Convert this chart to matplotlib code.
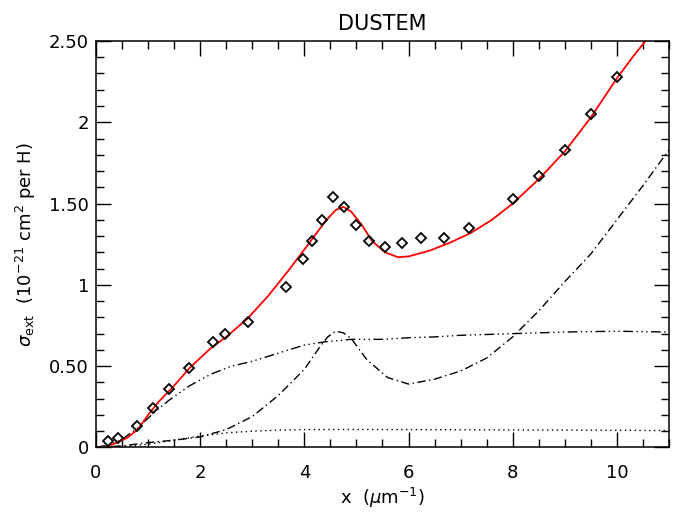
import matplotlib.pyplot as plt
from matplotlib.ticker import MultipleLocator, FixedLocator

plt.rcParams['font.family'] = ['DejaVu Sans']
plt.rcParams['mathtext.fontset'] = 'dejavusans'

# Observed extinction (diamonds).
OBS_X = [0.24, 0.42, 0.78, 1.10, 1.41, 1.79, 2.24, 2.48, 2.92, 3.65, 3.97, 4.15, 4.33,
         4.55, 4.76, 4.99, 5.24, 5.55, 5.87, 6.24, 6.68, 7.16, 8.0, 8.5, 9.0, 9.5, 10.0]
OBS_Y = [0.04, 0.06, 0.135, 0.24, 0.36, 0.49, 0.65, 0.70, 0.77, 0.985, 1.16, 1.27, 1.40,
         1.54, 1.48, 1.37, 1.27, 1.23, 1.26, 1.29, 1.29, 1.35, 1.53, 1.67, 1.83, 2.05, 2.28]

# Total model (red).
TOTAL_X = [0.0, 0.2, 0.4, 0.6, 0.8, 1.0, 1.2, 1.5, 1.8, 2.2, 2.5, 2.9, 3.3, 3.7, 4.1, 4.4,
           4.6, 4.75, 4.9, 5.1, 5.3, 5.55, 5.8, 6.0, 6.4, 6.8, 7.2, 7.6, 8.0, 8.5, 9.0, 9.5,
           10.0, 10.3, 10.6, 11.0]
TOTAL_Y = [0.0, 0.005, 0.03, 0.06, 0.11, 0.20, 0.28, 0.38, 0.49, 0.61, 0.68, 0.79, 0.93,
           1.09, 1.26, 1.39, 1.46, 1.48, 1.45, 1.37, 1.27, 1.20, 1.17, 1.175, 1.21, 1.26,
           1.32, 1.40, 1.50, 1.65, 1.82, 2.03, 2.27, 2.40, 2.52, 2.72]

# Component with the 2175 A bump (dash-dot).
BUMP_X = [0.0, 0.5, 1.0, 1.5, 2.0, 2.5, 3.0, 3.5, 4.0, 4.3, 4.45, 4.6, 4.75, 4.9, 5.2,
          5.6, 6.0, 6.5, 7.0, 7.5, 8.0, 8.5, 9.0, 9.5, 10.0, 10.5, 11.0]
BUMP_Y = [0.0, 0.01, 0.03, 0.045, 0.065, 0.11, 0.19, 0.32, 0.48, 0.62, 0.68, 0.715, 0.705,
          0.67, 0.54, 0.43, 0.39, 0.42, 0.47, 0.55, 0.68, 0.84, 1.02, 1.19, 1.40, 1.61, 1.83]

# Large grain component (dash-dot-dot-dot).
BIG_X = [0.0, 0.3, 0.5, 0.8, 1.1, 1.4, 1.8, 2.2, 2.6, 3.0, 3.5, 4.0, 4.4, 4.9, 5.5, 6.0,
         6.5, 7.0, 8.0, 9.0, 10.0, 11.0]
BIG_Y = [0.0, 0.02, 0.05, 0.12, 0.21, 0.29, 0.38, 0.45, 0.50, 0.53, 0.58, 0.63, 0.65, 0.665,
         0.665, 0.675, 0.68, 0.69, 0.70, 0.71, 0.715, 0.71]

# Small component (dotted).
DOT_X = [0.0, 0.5, 1.0, 1.5, 2.0, 2.5, 3.0, 3.5, 4.0, 5.0, 6.0, 8.0, 10.0, 11.0]
DOT_Y = [0.0, 0.003, 0.02, 0.045, 0.07, 0.09, 0.10, 0.107, 0.11, 0.111, 0.11, 0.108,
         0.106, 0.104]

Y_TICKS = [0, 0.5, 1, 1.5, 2, 2.5]
Y_TICK_LABELS = ['0', '0.50', '1', '1.50', '2', '2.50']


def main() -> None:
    fig = plt.figure(figsize=(6.73, 5.12), dpi=100)
    ax = fig.add_axes([0.1426, 0.126, 0.8514, 0.794])

    ax.plot(DOT_X, DOT_Y, color='black', lw=1.0, linestyle=(0, (1, 2.5)))
    ax.plot(BIG_X, BIG_Y, color='black', lw=1.0,
            linestyle=(0, (7, 2.5, 1, 2.5, 1, 2.5, 1, 2.5)))
    ax.plot(BUMP_X, BUMP_Y, color='black', lw=1.0, linestyle=(0, (6, 2.5, 1, 2.5)))
    ax.plot(TOTAL_X, TOTAL_Y, color='red', lw=1.3)
    ax.plot(OBS_X, OBS_Y, linestyle='none', marker='D', markersize=5.5,
            markerfacecolor='none', markeredgecolor='black', markeredgewidth=1.3)

    ax.set_xlim(0, 11)
    ax.set_ylim(0, 2.5)
    ax.xaxis.set_major_locator(MultipleLocator(2))
    ax.xaxis.set_minor_locator(MultipleLocator(0.5))
    ax.yaxis.set_major_locator(FixedLocator(Y_TICKS))
    ax.yaxis.set_minor_locator(MultipleLocator(0.1))
    ax.set_yticklabels(Y_TICK_LABELS)

    ax.tick_params(which='both', direction='in', top=True, right=True, width=1.0,
                   labelsize=13)
    ax.tick_params(axis='x', pad=12)
    ax.tick_params(axis='y', pad=5)
    ax.tick_params(which='major', length=11)
    ax.tick_params(which='minor', length=5.5)
    for spine in ax.spines.values():
        spine.set_linewidth(1.1)

    ax.set_title('DUSTEM', fontsize=15, pad=8)
    ax.set_xlabel(r'x  ($\mu$m$^{-1}$)', fontsize=13, labelpad=3)
    ax.set_ylabel(r'$\sigma_{\rm ext}$  (10$^{-21}$ cm$^2$ per H)', fontsize=13, labelpad=8)

    fig.savefig('out.png', dpi=100)


if __name__ == '__main__':
    main()
